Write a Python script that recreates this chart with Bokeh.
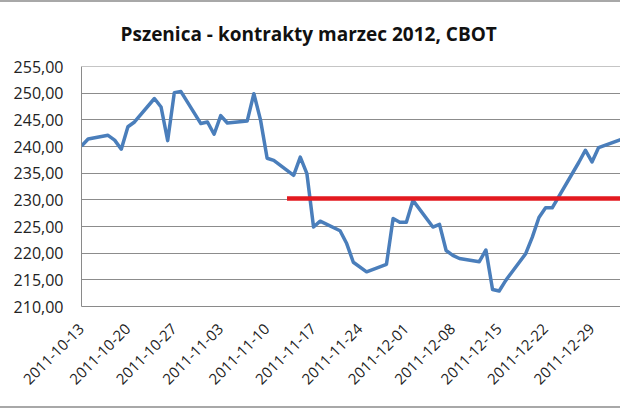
import pandas as pd
from bokeh.plotting import figure
from bokeh.models import FixedTicker, Span, Range1d
from bokeh.embed import file_html
from bokeh.resources import INLINE
import math

# ---- data ----
dates = ["2011-10-13", "2011-10-14", "2011-10-17", "2011-10-18", "2011-10-19", "2011-10-20",
         "2011-10-21", "2011-10-24", "2011-10-25", "2011-10-26", "2011-10-27", "2011-10-28",
         "2011-10-31", "2011-11-01", "2011-11-02", "2011-11-03", "2011-11-04", "2011-11-07",
         "2011-11-08", "2011-11-09", "2011-11-10", "2011-11-11", "2011-11-14", "2011-11-15",
         "2011-11-16", "2011-11-17", "2011-11-18", "2011-11-21", "2011-11-22", "2011-11-23",
         "2011-11-25", "2011-11-28", "2011-11-29", "2011-11-30", "2011-12-01", "2011-12-02",
         "2011-12-05", "2011-12-06", "2011-12-07", "2011-12-08", "2011-12-09", "2011-12-12",
         "2011-12-13", "2011-12-14", "2011-12-15", "2011-12-16", "2011-12-19", "2011-12-20",
         "2011-12-21", "2011-12-22", "2011-12-23", "2011-12-27", "2011-12-28", "2011-12-29",
         "2011-12-30", "2012-01-03"]
prices = [240.1, 241.4, 242.1, 241.2, 239.5, 243.7,
          244.6, 249.0, 247.4, 241.1, 250.1, 250.3,
          244.3, 244.6, 242.3, 245.8, 244.4, 244.8,
          249.9, 245.0, 237.8, 237.4, 234.6, 238.0,
          234.9, 224.9, 226.0, 224.2, 221.8, 218.3,
          216.5, 217.9, 226.5, 225.8, 225.8, 229.9,
          224.9, 225.4, 220.5, 219.6, 219.0, 218.4,
          220.6, 213.2, 212.9, 214.9, 219.9, 223.0,
          226.7, 228.5, 228.5, 237.0, 239.3, 237.1,
          239.8, 241.6]

tick_dates = ["2011-10-13", "2011-10-20", "2011-10-27", "2011-11-03", "2011-11-10", "2011-11-17",
              "2011-11-24", "2011-12-01", "2011-12-08", "2011-12-15", "2011-12-22", "2011-12-29"]
y_ticks = [210, 215, 220, 225, 230, 235, 240, 245, 250, 255]

red_level = 230.25
red_dates = ["2011-11-13", "2012-01-03"]

title_text = "Pszenica - kontrakty marzec 2012, CBOT"

# ---- derived ----
t0 = pd.Timestamp(dates[0])
x = [(pd.Timestamp(d) - t0).days for d in dates]
tick_x = [(pd.Timestamp(d) - t0).days for d in tick_dates]
red_x = [(pd.Timestamp(d) - t0).days for d in red_dates]

p = figure(width=620, height=408, output_backend="svg", toolbar_location=None,
           x_range=Range1d(0, 81.3), y_range=Range1d(210, 255),
           min_border_left=81, min_border_right=0, min_border_top=64, min_border_bottom=104)
p.styles = {"border-bottom": "2px solid #a8a8a8", "border-top": "2px solid #a8a8a8"}

p.title.text = title_text
p.title.align = "left"
p.title.vertical_align = "top"
p.title.offset = 39
p.title.standoff = 36
p.title.text_font = "Open Sans"
p.title.text_font_style = "bold"
p.title.text_font_size = "19px"
p.title.text_color = "#111111"

p.outline_line_color = None
p.background_fill_color = "white"
p.border_fill_color = "white"

# y axis
p.yaxis.ticker = FixedTicker(ticks=y_ticks)
p.yaxis.major_label_overrides = {v: f"{v:.2f}".replace(".", ",") for v in y_ticks}
p.yaxis.major_tick_out = 0
p.yaxis.major_tick_in = 0
p.yaxis.minor_tick_out = 0
p.yaxis.minor_tick_in = 0
p.yaxis.axis_line_color = "#8a8a8a"
p.yaxis.major_label_standoff = 18
p.yaxis.major_label_text_font = "Open Sans"
p.yaxis.major_label_text_font_size = "16px"
p.yaxis.major_label_text_color = "#222222"

# x axis
p.xaxis.ticker = FixedTicker(ticks=tick_x)
p.xaxis.major_label_overrides = {tx: d for tx, d in zip(tick_x, tick_dates)}
p.xaxis.major_label_orientation = math.pi / 4
p.xaxis.major_tick_out = 0
p.xaxis.major_tick_in = 0
p.xaxis.minor_tick_out = 0
p.xaxis.minor_tick_in = 0
p.xaxis.axis_line_color = "#8a8a8a"
p.xaxis.major_label_standoff = 20
p.xaxis.major_label_text_font = "Open Sans"
p.xaxis.major_label_text_font_size = "15px"
p.xaxis.major_label_text_color = "#222222"

p.xgrid.grid_line_color = None
p.ygrid.grid_line_color = "#8c8c8c"
p.ygrid.grid_line_width = 1
p.add_layout(Span(location=255, dimension="width", line_color="#8c8c8c", line_width=1))

p.line(x, prices, line_color="#4a7ebb", line_width=3.5, line_join="round")
p.line(red_x, [red_level, red_level], line_color="#e3191f", line_width=4.5)

open("out.html", "w").write(file_html(p, INLINE))
